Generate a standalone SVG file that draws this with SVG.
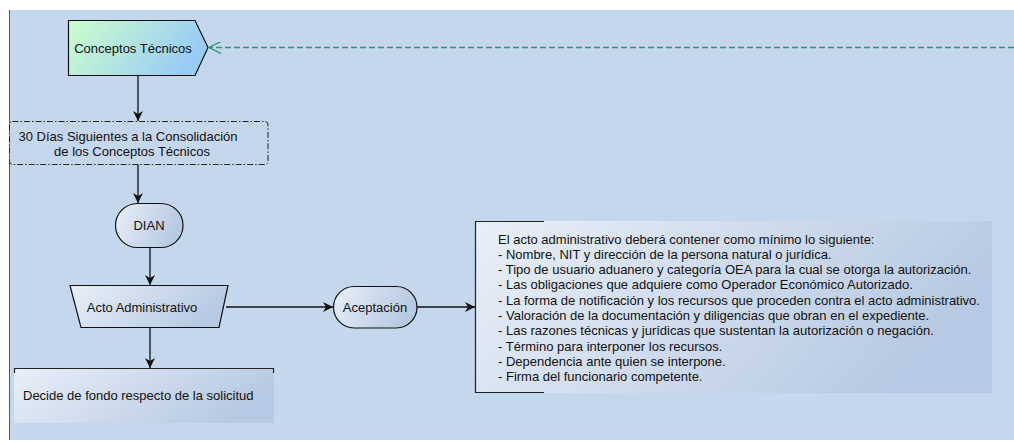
<svg xmlns="http://www.w3.org/2000/svg" width="1014" height="442" viewBox="0 0 1014 442">
<style>
text{font-family:"Liberation Sans",Arial,sans-serif;font-size:13px;fill:#111;}
.node{stroke:#111;stroke-width:1.2;}
.conn{stroke:#111;stroke-width:1.3;fill:none;}
</style>
<defs>
<linearGradient id="gGreen" x1="0" y1="0" x2="1" y2="0.3">
<stop offset="0" stop-color="#CCFFCC"/>
<stop offset="1" stop-color="#99CCF5"/>
</linearGradient>
<linearGradient id="gBlue" x1="0" y1="0" x2="1" y2="0.3">
<stop offset="0" stop-color="#E9EFF8"/>
<stop offset="1" stop-color="#B7CAE3"/>
</linearGradient>
<marker id="arr" viewBox="0 0 10 10" refX="10" refY="5" markerWidth="10" markerHeight="10" markerUnits="userSpaceOnUse" orient="auto">
<path d="M0,0 L10,5 L0,10 L3,5 Z" fill="#111"/>
</marker>
<marker id="open" viewBox="0 0 12 12" refX="12" refY="6" markerWidth="12" markerHeight="12" markerUnits="userSpaceOnUse" orient="auto">
<path d="M0,0 L12,6 L0,12" fill="none" stroke="#2E9670" stroke-width="1.3"/>
</marker>
</defs>
<rect x="0" y="0" width="1014" height="442" fill="#FFFFFF"/>
<rect x="9" y="10" width="1005" height="430" fill="#C5D7EC"/>
<line x1="9.5" y1="10" x2="9.5" y2="440" stroke="#555" stroke-width="1"/>

<g id="conceptos">
<path class="node" d="M68.5,20.5 H195 L208,47.5 L195,75.5 H68.5 Z" fill="url(#gGreen)"/>
<text x="133" y="53" text-anchor="middle">Conceptos Técnicos</text>
</g>

<g id="dias">
<rect x="9.5" y="121.5" width="258.5" height="43" rx="3" fill="#C5D7EC" stroke="#222" stroke-width="1" stroke-dasharray="6,2,1.5,2"/>
<text x="128" y="141" text-anchor="middle">30 Días Siguientes a la Consolidación</text>
<text x="132" y="156" text-anchor="middle">de los Conceptos Técnicos</text>
</g>

<g id="dian">
<rect class="node" x="115.5" y="203.5" width="67.5" height="44" rx="22" fill="url(#gBlue)"/>
<text x="149" y="230" text-anchor="middle">DIAN</text>
</g>

<g id="acto">
<path class="node" d="M70,285.5 H228 L219,327.5 H81 Z" fill="url(#gBlue)"/>
<text x="142" y="312" text-anchor="middle">Acto Administrativo</text>
</g>

<g id="aceptacion">
<rect class="node" x="333.5" y="286.5" width="83.5" height="41.5" rx="20.75" fill="url(#gBlue)"/>
<text x="375" y="311.5" text-anchor="middle">Aceptación</text>
</g>

<g id="contenido">
<rect x="475.5" y="221" width="516.5" height="172" fill="url(#gBlue)"/>
<path d="M544,221.5 H475.5 V392.5 H544" fill="none" stroke="#222" stroke-width="1.2"/>
<text x="498" y="243.5">El acto administrativo deberá contener como mínimo lo siguiente:</text>
<text x="498" y="258.8">- Nombre, NIT y dirección de la persona natural o jurídica.</text>
<text x="498" y="274.1">- Tipo de usuario aduanero y categoría OEA para la cual se otorga la autorización.</text>
<text x="498" y="289.4">- Las obligaciones que adquiere como Operador Económico Autorizado.</text>
<text x="498" y="304.7">- La forma de notificación y los recursos que proceden contra el acto administrativo.</text>
<text x="498" y="320">- Valoración de la documentación y diligencias que obran en el expediente.</text>
<text x="498" y="335.3">- Las razones técnicas y jurídicas que sustentan la autorización o negación.</text>
<text x="498" y="350.6">- Término para interponer los recursos.</text>
<text x="498" y="365.9">- Dependencia ante quien se interpone.</text>
<text x="498" y="381.2">- Firma del funcionario competente.</text>
</g>

<g id="decide">
<rect x="14" y="368" width="260" height="55" fill="url(#gBlue)"/>
<path d="M14.5,373 V368.5 H273.5 V373" fill="none" stroke="#222" stroke-width="1.2"/>
<text x="23" y="400">Decide de fondo respecto de la solicitud</text>
</g>

<g id="connectors">
<line x1="1014" y1="47.5" x2="209" y2="47.5" stroke="#2E9670" stroke-width="1.3" stroke-dasharray="6,3" marker-end="url(#open)"/>
<line class="conn" x1="138" y1="75.5" x2="138" y2="121" marker-end="url(#arr)"/>
<line class="conn" x1="138" y1="164.5" x2="138" y2="203" marker-end="url(#arr)"/>
<line class="conn" x1="150" y1="247.5" x2="150" y2="285" marker-end="url(#arr)"/>
<line class="conn" x1="226" y1="307" x2="333" y2="307" marker-end="url(#arr)"/>
<line class="conn" x1="417" y1="307" x2="475" y2="307" marker-end="url(#arr)"/>
<line class="conn" x1="150" y1="327.5" x2="150" y2="368" marker-end="url(#arr)"/>
</g>
</svg>
